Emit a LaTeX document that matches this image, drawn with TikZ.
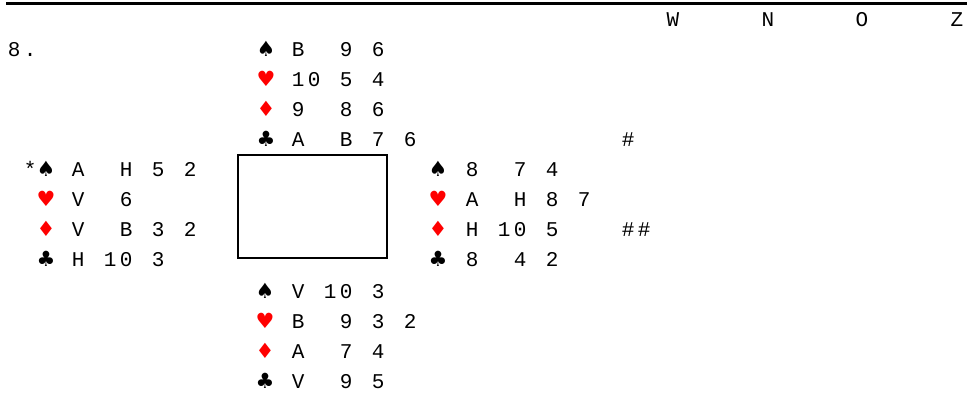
\documentclass[tikz,border=0pt]{standalone}
\usepackage{fontspec}
\usepackage{xcolor}
\usepackage{tikz}
\usetikzlibrary{positioning}
\newfontfamily\cardfont{Liberation Mono}
\newfontfamily\suitfont{DejaVu Sans}
\definecolor{suitred}{RGB}{255,0,0}
% one fixed cell per character, blanks given as {}
\newcommand{\cells}[1]{\foreach \cardchar in {#1}{\makebox[16pt]{\cardchar}}}
% hand: name, suit x, cards x, first baseline, spades, hearts, diamonds, clubs
\newcommand{\hand}[8]{%
  \node[suit] (#1S) at (#2,#4) {♠};
  \node[redsuit] (#1H) at (#2,#4+30) {♥};
  \node[redsuit] (#1D) at (#2,#4+60) {♦};
  \node[suit] (#1C) at (#2,#4+90) {♣};
  \node[cards] (#1s) at (#3,#4) {\cells{#5}};
  \node[cards] (#1h) at (#3,#4+30) {\cells{#6}};
  \node[cards] (#1d) at (#3,#4+60) {\cells{#7}};
  \node[cards] (#1c) at (#3,#4+90) {\cells{#8}};
}

\begin{document}
\begin{tikzpicture}[x=1pt, y=-1pt,
  cards/.style={font=\cardfont\fontsize{21}{24}\selectfont, inner sep=0pt, anchor=base west},
  seat/.style={cards, anchor=base},
  suit/.style={font=\suitfont\fontsize{21}{24}\selectfont, inner sep=0pt, anchor=base},
  redsuit/.style={suit, text=suitred}]
\useasboundingbox (0,0) rectangle (967,394);
\draw[line width=3pt] (6,3.3) -- (967,3.3);
% header
\node[seat] (w) at (673,26) {W};
\node[seat] (n) at (768,26) {N};
\node[seat] (o) at (862,26) {O};
\node[seat] (z) at (957,26) {Z};
\node[cards] (deal) at (6,56) {\cells{8,.}};
% hands
\hand{north}{266}{290}{56}{B,{},{},9,{},6}{1,0,{},5,{},4}{9,{},{},8,{},6}{A,{},{},B,{},7,{},6}
\hand{west}{46}{70}{176}{A,{},{},H,{},5,{},2}{V,{},{},6}{V,{},{},B,{},3,{},2}{H,{},1,0,{},3}
\hand{east}{438}{464}{176}{8,{},{},7,{},4}{A,{},{},H,{},8,{},7}{H,{},1,0,{},5}{8,{},{},4,{},2}
\hand{south}{265}{290}{298}{V,{},1,0,{},3}{B,{},{},9,{},3,{},2}{A,{},{},7,{},4}{V,{},{},9,{},5}
\node[cards] (lead) at (22,176) {\cells{*}};
\node[cards] (mark) at (620,146) {\cells{\#}};
\node[cards] (marks) at (620,236) {\cells{\#,\#}};
% table
\node[draw, line width=2pt, inner sep=0pt, minimum width=149pt, minimum height=103pt] (table) at (312.2,206.7) {};
\end{tikzpicture}
\end{document}
